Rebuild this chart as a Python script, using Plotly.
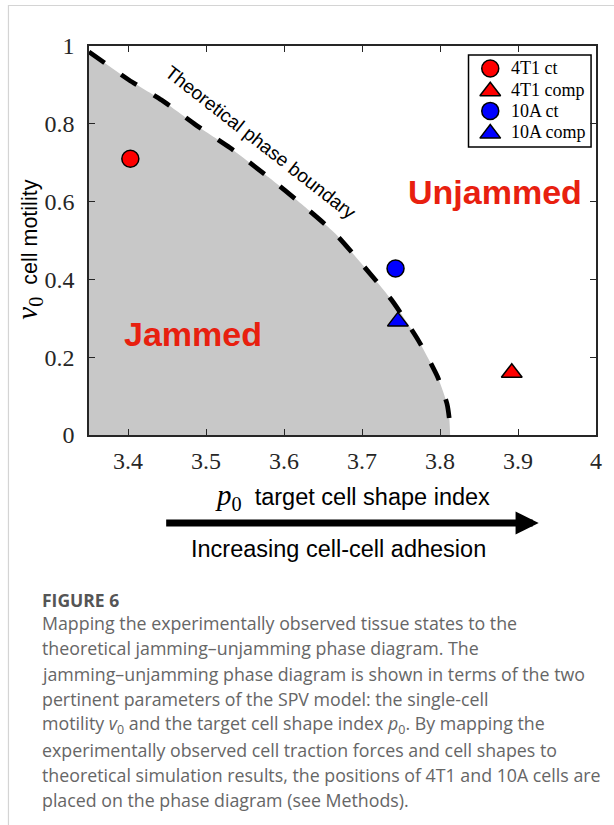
import plotly.graph_objects as go

# ---------------- data ----------------
boundary_p0 = [3.350, 3.401, 3.443, 3.487, 3.531, 3.580, 3.624, 3.665, 3.703, 3.738, 3.772, 3.797, 3.809, 3.812, 3.813]
boundary_v0 = [0.985, 0.913, 0.861, 0.797, 0.738, 0.663, 0.591, 0.519, 0.432, 0.347, 0.244, 0.149, 0.080, 0.040, 0.0]

series_names = ["4T1 ct", "4T1 comp", "10A ct", "10A comp"]
series_p0 = [3.403, 3.892, 3.743, 3.746]
series_v0 = [0.710, 0.160, 0.428, 0.292]
series_colors = ["#ff0000", "#ff0000", "#0000ff", "#0000ff"]
series_symbols = ["circle", "triangle-up", "circle", "triangle-up"]

x_ticks = [3.4, 3.5, 3.6, 3.7, 3.8, 3.9, 4.0]
x_ticklabels = ["3.4", "3.5", "3.6", "3.7", "3.8", "3.9", "4"]
y_ticks = [0, 0.2, 0.4, 0.6, 0.8, 1.0]
y_ticklabels = ["0", "0.2", "0.4", "0.6", "0.8", "1"]

caption_title = "FIGURE 6"
caption_lines = [
    "Mapping the experimentally observed tissue states to the",
    "theoretical jamming\u2013unjamming phase diagram. The",
    "jamming\u2013unjamming phase diagram is shown in terms of the two",
    "pertinent parameters of the SPV model: the single-cell",
    "motility <i>v</i><sub>0</sub> and the target cell shape index <i>p</i><sub>0</sub>. By mapping the",
    "experimentally observed cell traction forces and cell shapes to",
    "theoretical simulation results, the positions of 4T1 and 10A cells are",
    "placed on the phase diagram (see Methods).",
]

# ---------------- geometry helpers (pixels -> paper) ----------------
W, H = 614, 825
L, R, T, B = 89, 602, 46, 435


def fx(px):
    return (px - L) / (R - L)


def fy(py):
    return (B - py) / (B - T)


SERIF = "Liberation Serif, Times New Roman, serif"
SANS = "Liberation Sans, Arial, Helvetica, sans-serif"
AX = "#262626"
RED_TXT = "#e8200f"

fig = go.Figure()

# jammed (gray) region
fig.add_trace(go.Scatter(
    x=boundary_p0, y=boundary_v0, mode="lines",
    line=dict(width=0, shape="spline", smoothing=0.6),
    fill="tozeroy", fillcolor="#c8c8c8",
    hoverinfo="skip", showlegend=False,
))
# dashed boundary
fig.add_trace(go.Scatter(
    x=boundary_p0, y=boundary_v0, mode="lines",
    line=dict(width=4.7, color="black", dash="19px,20px", shape="spline", smoothing=0.6),
    hoverinfo="skip", showlegend=False,
))


def msize(sym):
    return 17 if sym == "circle" else 18


for name, xv, yv, c, s in zip(series_names, series_p0, series_v0, series_colors, series_symbols):
    fig.add_trace(go.Scatter(
        x=[xv], y=[yv], mode="markers", name=name, showlegend=False,
        marker=dict(color=c, symbol=s, size=msize(s), opacity=1,
                    line=dict(color="black", width=1.5)),
    ))

# ---- legend box (keys drawn on an invisible pixel-unit overlay axis) ----
LEG_X0, LEG_X1, LEG_Y0, LEG_Y1 = 473, 597, 55, 147
LEG_ROW0, LEG_STEP = 68.5, 21.2
LEG_KEY_X, LEG_TXT_X = 495, 514
legend_rows = [LEG_ROW0 + i * LEG_STEP for i in range(len(series_names))]
fig.add_trace(go.Scatter(
    x=[LEG_KEY_X] * len(series_names),
    y=[r + (1.5 if s != "circle" else 0) for r, s in zip(legend_rows, series_symbols)],
    xaxis="x2", yaxis="y2", mode="markers", showlegend=False, hoverinfo="skip",
    marker=dict(color=series_colors, symbol=series_symbols, opacity=1,
                size=[msize(s) for s in series_symbols], line=dict(color="black", width=1.5)),
))

annotations = []
for name, r in zip(series_names, legend_rows):
    annotations.append(dict(
        x=fx(LEG_TXT_X), y=fy(r), xref="paper", yref="paper", xanchor="left", yanchor="middle",
        text=name, showarrow=False, font=dict(family=SERIF, size=18, color="black"),
    ))

# curve label
annotations.append(dict(
    x=fx(263), y=fy(142), xref="paper", yref="paper", xanchor="center", yanchor="middle",
    text="Theoretical phase boundary",
    showarrow=False, textangle=38, font=dict(family=SANS, size=19, color="black"),
))
annotations.append(dict(
    x=fx(500), y=fy(192), xref="paper", yref="paper", xanchor="center", yanchor="middle",
    text="<b>Unjammed</b>",
    showarrow=False, font=dict(family=SANS, size=34, color=RED_TXT),
))
annotations.append(dict(
    x=fx(194), y=fy(334), xref="paper", yref="paper", xanchor="center", yanchor="middle",
    text="<b>Jammed</b>",
    showarrow=False, font=dict(family=SANS, size=34, color=RED_TXT),
))
# axis titles
annotations.append(dict(
    x=fx(28), y=fy(250), xref="paper", yref="paper", xanchor="center", yanchor="middle",
    textangle=-90,
    text=("<span style='font-family:Liberation Serif;font-size:29px'><i>v</i><sub>0</sub></span>"
          "  cell motility"),
    showarrow=False, font=dict(family=SANS, size=21.5, color="black"),
))
annotations.append(dict(
    x=fx(356), y=fy(497), xref="paper", yref="paper", xanchor="center", yanchor="middle",
    text=("<span style='font-family:Liberation Serif;font-size:29px'><i>p</i><sub>0</sub></span>"
          "  target cell shape index"),
    showarrow=False, font=dict(family=SANS, size=23.5, color="black"),
))
# arrow
annotations.append(dict(
    x=fx(544), y=fy(523), xref="paper", yref="paper",
    ax=170 - 544, ay=0, axref="pixel", ayref="pixel",
    text="", showarrow=True, arrowhead=2, arrowwidth=7, arrowsize=0.66,
    arrowcolor="black", standoff=0,
))
annotations.append(dict(
    x=fx(341), y=fy(549), xref="paper", yref="paper", xanchor="center", yanchor="middle",
    text="Increasing cell-cell adhesion",
    showarrow=False, font=dict(family=SANS, size=23.5, color="black"),
))
# caption
CAP_FONT = "Open Sans, Noto Sans, sans-serif"
annotations.append(dict(
    x=fx(39), y=fy(600), xref="paper", yref="paper", xanchor="left", yanchor="middle",
    text="<b>" + caption_title + "</b>", showarrow=False,
    font=dict(family=CAP_FONT, size=17.5, color="#555555"),
))
for i, line in enumerate(caption_lines):
    annotations.append(dict(
        x=fx(39), y=fy(623 + i * 25.3), xref="paper", yref="paper", xanchor="left", yanchor="middle",
        text=line, showarrow=False,
        font=dict(family=CAP_FONT, size=17.8, color="#666666"),
    ))

shapes = [
    dict(type="rect", xref="paper", yref="paper",
         x0=fx(7.5), x1=fx(640), y0=fy(5.5), y1=fy(850),
         line=dict(color="#d4d4d4", width=1.2), layer="below"),
    dict(type="rect", xref="paper", yref="paper",
         x0=fx(LEG_X0), x1=fx(LEG_X1), y0=fy(LEG_Y0), y1=fy(LEG_Y1),
         line=dict(color="black", width=1.5), fillcolor="white", layer="below"),
]

axis_common = dict(
    showline=True, linecolor=AX, linewidth=1.5, mirror="ticks",
    ticks="inside", ticklen=6, tickwidth=1.3, tickcolor=AX,
    showgrid=False, zeroline=False,
    tickfont=dict(family=SERIF, size=24, color=AX),
)

fig.update_layout(
    width=W, height=H,
    margin=dict(l=L, r=W - R, t=T, b=H - B),
    paper_bgcolor="white", plot_bgcolor="rgba(0,0,0,0)",
    xaxis=dict(range=[3.35, 4.0], tickvals=x_ticks, ticktext=x_ticklabels,
               ticklabelstandoff=3, **axis_common),
    yaxis=dict(range=[0, 1], tickvals=y_ticks, ticktext=y_ticklabels,
               ticklabelstandoff=8, **axis_common),
    xaxis2=dict(overlaying="x", range=[L, R], visible=False, fixedrange=True),
    yaxis2=dict(overlaying="y", range=[B, T], visible=False, fixedrange=True),
    annotations=annotations, shapes=shapes,
    showlegend=False,
)

fig.write_html("out.html", config={"displayModeBar": False},
               post_script="document.body.style.margin='0px';")
